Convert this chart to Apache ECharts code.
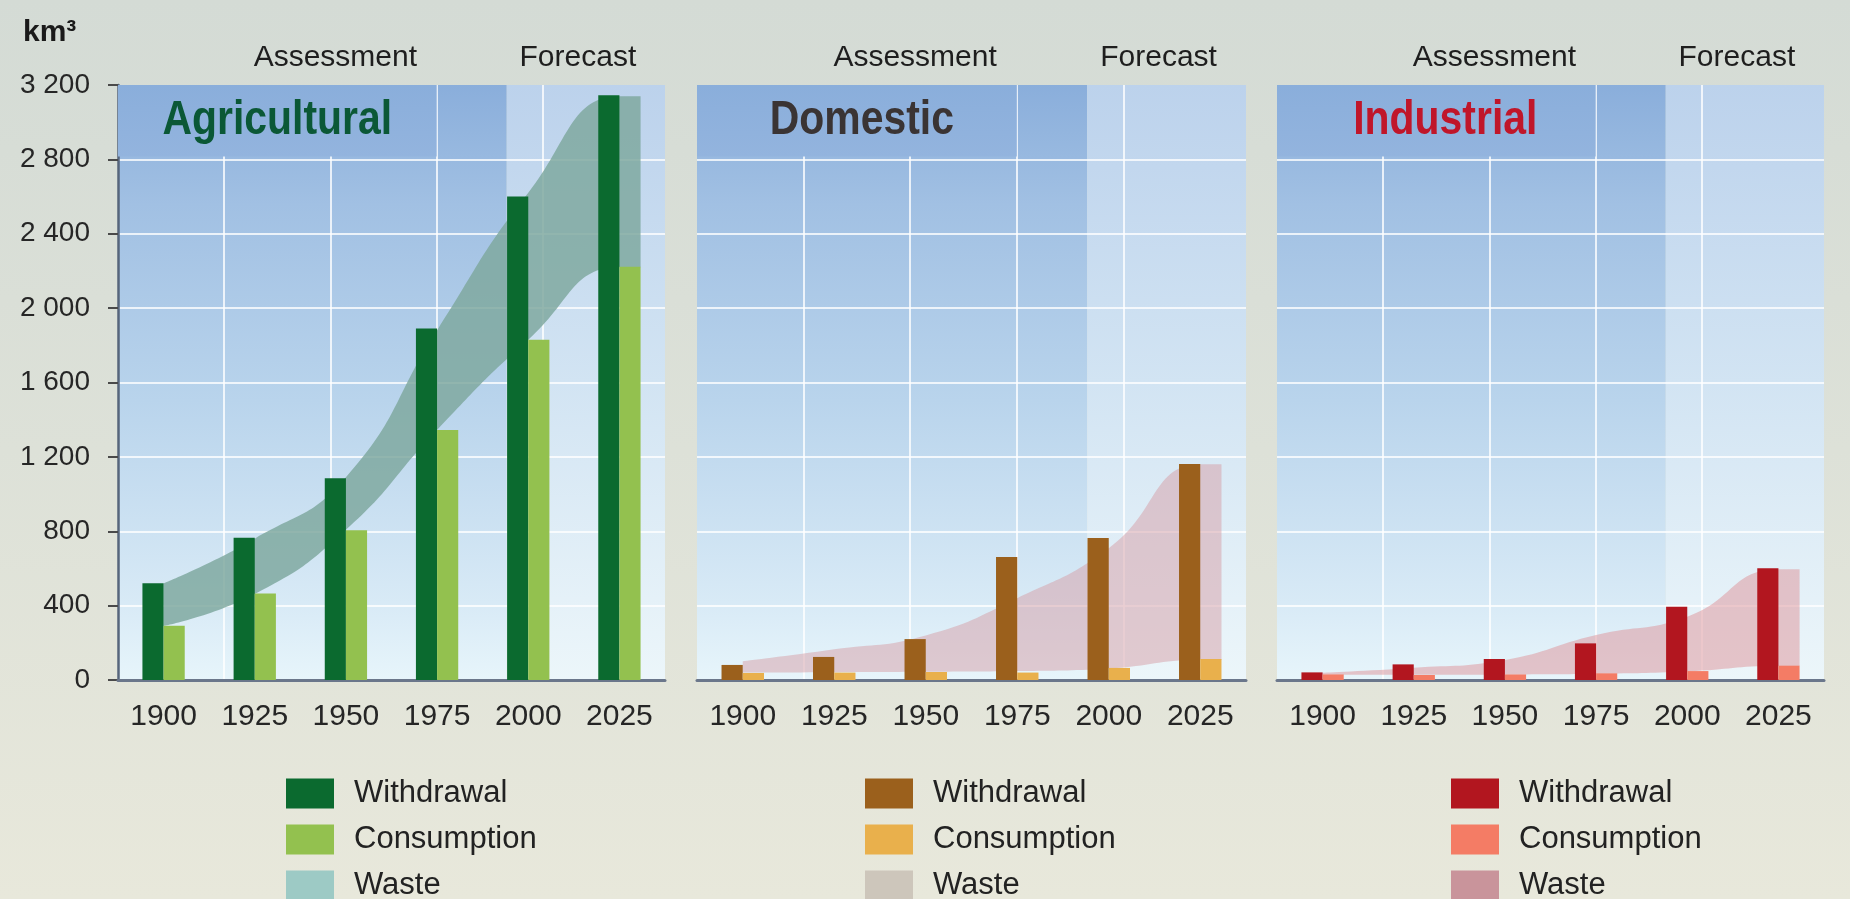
<!DOCTYPE html>
<html>
<head>
<meta charset="utf-8">
<script src="https://cdn.jsdelivr.net/npm/echarts@6/dist/echarts.min.js"></script>
<style>
  html, body { margin: 0; padding: 0; width: 1850px; height: 899px; overflow: hidden;
    background: linear-gradient(to bottom, #d4dbd5 0%, #dde1d8 50%, #e8e8db 100%); }
  #chart { width: 1850px; height: 899px; }
</style>
</head>
<body>
<div id="chart"></div>
<script>
// ---- data (km³ per year) ----
const years = ['1900', '1925', '1950', '1975', '2000', '2025'];
const sectors = ['Agricultural', 'Domestic', 'Industrial'];
const periodLabels = ['Assessment', 'Forecast'];
const legendLabels = ['Withdrawal', 'Consumption', 'Waste'];
const unitLabel = 'km³';

const agriWithdrawal  = [520, 765, 1085, 1890, 2600, 3145];
const agriConsumption = [292, 465, 805, 1345, 1830, 2222];
const agriWasteTop    = [520, 760, 1090, 1880, 2620, 3140];
const agriWasteBase   = [290, 462, 808, 1345, 1830, 2220];

const domWithdrawal   = [81, 124, 220, 661, 764, 1162];
const domConsumption  = [38, 40, 43, 40, 65, 113];
const domWasteTop     = [100, 165, 240, 440, 708, 1160];
const domWasteBase    = [40, 42, 44, 48, 62, 108];

const indWithdrawal   = [41, 84, 113, 197, 394, 601];
const indConsumption  = [30, 27, 30, 36, 48, 77];
const indWasteTop     = [39, 66, 108, 242, 340, 595];
const indWasteBase    = [28, 28, 30, 34, 46, 75];

// ---- layout & style ----
const FONT = "'Liberation Sans', Arial, Helvetica, sans-serif";
const BAR_FRACTION = 0.232;       // each bar's share of a category band
const GRID_STEPS = 5.15;          // decorative vertical grid: 4 lines across the panel
const ASSESSMENT_END = 3.66;      // boundary between assessed and forecast periods (grid units)
const TITLE_BOX_END = 3;          // title block spans the first three grid cells
const TITLE_BOX_DEPTH = 385;      // title block height in axis units
const GRID_WHITE = 'rgba(255,255,255,0.78)';
const Y_MAX = 3200, Y_STEP = 400;

const panels = [
  { title: sectors[0], titleColor: '#0b5836', titleShift: 0, left: 118, width: 547, legendLeft: 286,
    withdrawal: agriWithdrawal, consumption: agriConsumption, wasteTop: agriWasteTop, wasteBase: agriWasteBase,
    cW: '#0b6a2f', cC: '#93c14f', cWaste: 'rgba(126,168,158,0.84)', cWasteKey: '#9dcac5' },
  { title: sectors[1], titleColor: '#3a3434', titleShift: 5, left: 697, width: 549, legendLeft: 865,
    withdrawal: domWithdrawal, consumption: domConsumption, wasteTop: domWasteTop, wasteBase: domWasteBase,
    cW: '#9b601c', cC: '#e9b04c', cWaste: 'rgba(214,157,165,0.5)', cWasteKey: '#cdc6bb' },
  { title: sectors[2], titleColor: '#c0162a', titleShift: 9, left: 1277, width: 547, legendLeft: 1451,
    withdrawal: indWithdrawal, consumption: indConsumption, wasteTop: indWasteTop, wasteBase: indWasteBase,
    cW: '#b2161f', cC: '#f47c65', cWaste: 'rgba(222,145,152,0.5)', cWasteKey: '#c9949b' }
];

const yearValues = years.map(Number);
const yearStep = yearValues[1] - yearValues[0];
const yearMin = yearValues[0] - yearStep / 2;
const yearMax = yearValues[yearValues.length - 1] + yearStep / 2;
// the waste band runs on to the outer edge of the last consumption bar
const bandX = yearValues.concat([yearValues[yearValues.length - 1] + yearStep * BAR_FRACTION]);
const withLast = arr => arr.concat([arr[arr.length - 1]]);

const vgrad = stops => ({ type: 'linear', x: 0, y: 0, x2: 0, y2: 1,
  colorStops: stops.map(s => ({ offset: s[0], color: s[1] })) });
const assessFill = vgrad([[0, '#8aaedb'], [0.2, '#a1c0e3'], [0.53, '#b9d4ec'], [0.87, '#d8eaf6'], [1, '#e7f5fb']]);
const forecastFill = vgrad([[0, '#bcd2ec'], [0.5, '#d2e4f3'], [1, '#ecf6fa']]);
const titleFill = vgrad([[0, '#8aaedb'], [1, '#93b4de']]);

const fmtThousands = v => v >= 1000 ? Math.floor(v / 1000) + ' ' + String(v % 1000).padStart(3, '0') : String(v);

const grids = [], xAxes = [], yAxes = [], series = [], legends = [];

panels.forEach((p, i) => {
  grids.push({ left: p.left, width: p.width, top: 85, height: 595 });

  // category axis carrying the bars and year labels
  xAxes.push({ type: 'category', gridIndex: i, data: years, position: 'bottom', boundaryGap: true, z: 3,
    axisLine: { show: true, lineStyle: { color: '#6b778b', width: 3 } },
    axisTick: { show: false },
    axisLabel: { fontSize: 30, fontFamily: FONT, color: '#262626', margin: 22 },
    splitLine: { show: false } });
  // numeric year axis for the smooth waste band
  xAxes.push({ type: 'value', gridIndex: i, min: yearMin, max: yearMax, show: false });
  // decorative vertical grid
  xAxes.push({ type: 'value', gridIndex: i, min: 0, max: GRID_STEPS, interval: 1, position: 'top',
    axisLine: { show: false }, axisTick: { show: false }, axisLabel: { show: false },
    splitLine: { show: true, showMinLine: false, showMaxLine: false,
      lineStyle: { color: [GRID_WHITE, GRID_WHITE, GRID_WHITE, GRID_WHITE, 'rgba(0,0,0,0)'], width: 2 } } });

  yAxes.push({ type: 'value', gridIndex: i, min: 0, max: Y_MAX, interval: Y_STEP,
    axisLine: { show: i === 0, lineStyle: { color: '#56657b', width: 2.5 } },
    axisTick: { show: i === 0, length: 10, lineStyle: { color: '#4a4a4a', width: 2 } },
    axisLabel: { show: i === 0, fontSize: 28, fontFamily: FONT, color: '#262626', margin: 28, formatter: fmtThousands },
    splitLine: { show: true, showMaxLine: false, lineStyle: { color: GRID_WHITE, width: 2 } } });

  const xCat = i * 3, xYear = i * 3 + 1, xGrid = i * 3 + 2;

  // period backgrounds with their headings
  series.push({ type: 'line', name: p.title + ' periods', xAxisIndex: xGrid, yAxisIndex: i, data: [], silent: true,
    markArea: { z: -1, silent: true,
      label: { show: true, position: 'top', distance: 12, fontSize: 30, fontFamily: FONT, color: '#1e1e1e' },
      data: [
        [{ xAxis: 0, yAxis: 0, name: periodLabels[0], itemStyle: { color: assessFill }, label: { offset: [23, 0] } },
         { xAxis: ASSESSMENT_END, yAxis: Y_MAX }],
        [{ xAxis: ASSESSMENT_END, yAxis: 0, name: periodLabels[1], itemStyle: { color: forecastFill }, label: { offset: [-8, 0] } },
         { xAxis: GRID_STEPS, yAxis: Y_MAX }]
      ] } });

  // sector title block (the heading text is added after layout)
  series.push({ type: 'line', name: p.title + ' heading', xAxisIndex: xGrid, yAxisIndex: i, data: [], silent: true,
    markArea: { z: 0.5, silent: true, itemStyle: { color: titleFill }, label: { show: false },
      data: [[{ xAxis: 0, yAxis: Y_MAX - TITLE_BOX_DEPTH }, { xAxis: TITLE_BOX_END, yAxis: Y_MAX }]] } });

  // waste band between consumption and withdrawal; values come first so the stack sums on y
  const base = withLast(p.wasteBase), top = withLast(p.wasteTop);
  const bandCommon = { type: 'line', xAxisIndex: xYear, yAxisIndex: i, stack: 'waste' + i,
    encode: { x: 1, y: 0 }, smooth: 0.5, showSymbol: false, silent: true, z: 1,
    lineStyle: { width: 0, opacity: 0 } };
  series.push(Object.assign({}, bandCommon, { name: p.title + ' waste base',
    data: bandX.map((x, k) => [base[k], x]) }));
  series.push(Object.assign({}, bandCommon, { name: legendLabels[2],
    data: bandX.map((x, k) => [top[k] - base[k], x]),
    itemStyle: { color: p.cWasteKey }, areaStyle: { color: p.cWaste, opacity: 1 } }));

  // bars
  series.push({ type: 'bar', name: legendLabels[0], xAxisIndex: xCat, yAxisIndex: i, data: p.withdrawal,
    barWidth: (BAR_FRACTION * 100) + '%', barGap: '0%', z: 3, silent: true, itemStyle: { color: p.cW } });
  series.push({ type: 'bar', name: legendLabels[1], xAxisIndex: xCat, yAxisIndex: i, data: p.consumption,
    barWidth: (BAR_FRACTION * 100) + '%', barGap: '0%', z: 3, silent: true, itemStyle: { color: p.cC } });

  legends.push({ left: p.legendLeft, top: 778, height: 140, padding: 0, orient: 'vertical', icon: 'rect', selectedMode: false,
    itemWidth: 48, itemHeight: 30, itemGap: 15,
    textStyle: { fontSize: 31, fontFamily: FONT, color: '#222', lineHeight: 30, padding: [0, 0, 0, 15] },
    data: [
      { name: legendLabels[0], itemStyle: { color: p.cW, borderWidth: 0 } },
      { name: legendLabels[1], itemStyle: { color: p.cC, borderWidth: 0 } },
      { name: legendLabels[2], itemStyle: { color: p.cWasteKey, borderWidth: 0 }, lineStyle: { width: 0 } }
    ] });
});

const chart = echarts.init(document.getElementById('chart'), null, { renderer: 'canvas' });
chart.setOption({
  animation: false,
  title: { text: unitLabel, left: 18, top: 13, textStyle: { fontSize: 30, fontWeight: 'bold', fontFamily: FONT, color: '#1a1a1a' } },
  grid: grids,
  xAxis: xAxes,
  yAxis: yAxes,
  legend: legends,
  series: series
});

// sector headings: bold, horizontally condensed, centred in each title block
const headings = panels.map((p, i) => {
  const c = chart.convertToPixel({ xAxisIndex: i * 3 + 2, yAxisIndex: i },
    [TITLE_BOX_END / 2, Y_MAX - TITLE_BOX_DEPTH / 2]);
  return { type: 'text', x: c[0] + p.titleShift, y: c[1], scaleX: 0.835, z: 10, silent: true,
    style: { text: p.title, fill: p.titleColor, fontSize: 49, fontWeight: 'bold', fontFamily: FONT,
      align: 'center', verticalAlign: 'middle' } };
});
chart.setOption({ graphic: headings });
</script>
</body>
</html>
